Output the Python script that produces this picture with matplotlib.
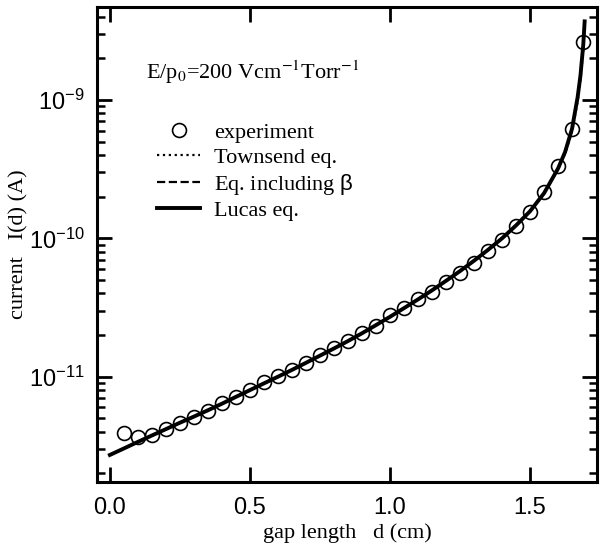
import numpy as np
import matplotlib
matplotlib.use("Agg")
import matplotlib.pyplot as plt
from matplotlib.ticker import LogLocator, NullFormatter, FixedLocator

# --- data (current in A, gap in cm) ---
d_exp = [0.05, 0.10, 0.15, 0.20, 0.25, 0.30, 0.35, 0.40, 0.45, 0.50,
         0.55, 0.60, 0.65, 0.70, 0.75, 0.80, 0.85, 0.90, 0.95, 1.00,
         1.05, 1.10, 1.15, 1.20, 1.25, 1.30, 1.35, 1.40, 1.45, 1.50,
         1.55, 1.60, 1.65, 1.69]
I_exp = [3.90e-12, 3.68e-12, 3.79e-12, 4.17e-12, 4.65e-12, 5.14e-12, 5.68e-12,
         6.41e-12, 7.16e-12, 8.05e-12, 9.20e-12, 1.01e-11, 1.12e-11, 1.26e-11,
         1.44e-11, 1.60e-11, 1.82e-11, 2.06e-11, 2.33e-11, 2.77e-11, 3.12e-11,
         3.63e-11, 4.12e-11, 4.87e-11, 5.65e-11, 6.67e-11, 8.11e-11, 9.73e-11,
         1.22e-10, 1.54e-10, 2.18e-10, 3.36e-10, 6.20e-10, 2.64e-09]

d_model = [0.00, 0.05, 0.10, 0.15, 0.20, 0.25, 0.30, 0.35, 0.40, 0.45,
           0.50, 0.55, 0.60, 0.65, 0.70, 0.75, 0.80, 0.85, 0.90, 0.95,
           1.00, 1.05, 1.10, 1.15, 1.20, 1.25, 1.30, 1.35, 1.40, 1.45,
           1.50, 1.55, 1.60, 1.625, 1.65, 1.67, 1.68, 1.69, 1.695]
I_lucas = [2.72e-12, 3.03e-12, 3.38e-12, 3.76e-12, 4.18e-12, 4.65e-12, 5.15e-12,
           5.72e-12, 6.38e-12, 7.15e-12, 8.00e-12, 8.95e-12, 1.00e-11, 1.12e-11,
           1.26e-11, 1.42e-11, 1.60e-11, 1.81e-11, 2.06e-11, 2.36e-11, 2.71e-11,
           3.13e-11, 3.62e-11, 4.21e-11, 4.93e-11, 5.80e-11, 6.89e-11, 8.26e-11,
           1.00e-10, 1.24e-10, 1.57e-10, 2.12e-10, 3.20e-10, 4.20e-10, 6.20e-10,
           1.05e-09, 1.50e-09, 2.50e-09, 3.70e-09]
I_beta = I_lucas
I_townsend = [2.72e-12, 3.03e-12, 3.38e-12, 3.76e-12, 4.18e-12, 4.65e-12, 5.15e-12,
              5.72e-12, 6.38e-12, 7.15e-12, 8.00e-12, 8.95e-12, 1.00e-11, 1.12e-11,
              1.26e-11, 1.42e-11, 1.60e-11, 1.81e-11, 2.06e-11, 2.36e-11, 2.71e-11,
              3.13e-11, 3.62e-11, 4.21e-11, 4.93e-11, 5.80e-11, 6.89e-11, 8.26e-11,
              1.00e-10, 1.24e-10, 1.57e-10, 2.12e-10, 3.15e-10, 4.10e-10, 5.90e-10,
              9.80e-10, 1.40e-09, 2.30e-09, 3.90e-09]

x_ticks = [0.0, 0.5, 1.0, 1.5]
x_ticklabels = ["0.0", "0.5", "1.0", "1.5"]
y_ticks = [1e-11, 1e-10, 1e-9]

# --- style ---
plt.rcParams['font.family'] = ['Liberation Sans', 'DejaVu Sans']
plt.rcParams['mathtext.fontset'] = 'custom'
plt.rcParams['mathtext.rm'] = 'Liberation Sans'
plt.rcParams['mathtext.it'] = 'Liberation Sans'
plt.rcParams['axes.unicode_minus'] = False
serif = ['Liberation Serif', 'DejaVu Serif']

fig = plt.figure(figsize=(6.01, 5.53), dpi=100)
ax = fig.add_axes([0.1614, 0.1284, 0.8319, 0.8589])

ax.plot(d_model, I_townsend, ':', color='black', lw=1.6, label='Townsend eq.')
ax.plot(d_model, I_beta, '--', color='black', lw=1.6, label=r'Eq. including $\beta$')
ax.plot(d_model, I_lucas, '-', color='black', lw=2.8, label='Lucas eq.')
ax.plot(d_exp, I_exp, 'o', ms=10, mfc='none', mec='black', mew=1.2,
        label='experiment')

ax.set_yscale('log')
ax.set_xlim(-0.046, 1.739)
ax.set_ylim(1.734e-12, 4.70e-9)

ax.set_xticks(x_ticks)
ax.set_xticklabels(x_ticklabels)
ax.yaxis.set_major_locator(FixedLocator(y_ticks))
ax.yaxis.set_minor_locator(LogLocator(base=10, subs=np.arange(2, 10)))
ax.yaxis.set_minor_formatter(NullFormatter())

ax.tick_params(which='both', direction='in', top=True, right=True,
               labelsize=17)
ax.tick_params(which='major', length=11, width=2)
ax.tick_params(which='minor', length=6, width=1.8)
ax.tick_params(axis='x', pad=11)
ax.tick_params(axis='y', pad=9)
for s in ax.spines.values():
    s.set_linewidth(2.2)

ax.set_xlabel('gap length   d (cm)', family=serif, fontsize=16, labelpad=3)
ax.set_ylabel('current   I(d) (A)', family=serif, fontsize=16, labelpad=0)

ax.text(0.098, 0.863, r'E/p$_0$=200 Vcm$^{-1}$Torr$^{-1}$', transform=ax.transAxes,
        family=serif, math_fontfamily='stix', fontsize=16, va='center')

handles, labels = ax.get_legend_handles_labels()
order = [3, 0, 1, 2]
ax.legend([handles[i] for i in order], [labels[i] for i in order],
          loc='upper left', bbox_to_anchor=(0.12, 0.757), frameon=False,
          prop={'family': serif, 'size': 16}, handlelength=1.95,
          handletextpad=0.6, labelspacing=0.18, borderpad=0, borderaxespad=0)

fig.savefig('out.png', dpi=100)
